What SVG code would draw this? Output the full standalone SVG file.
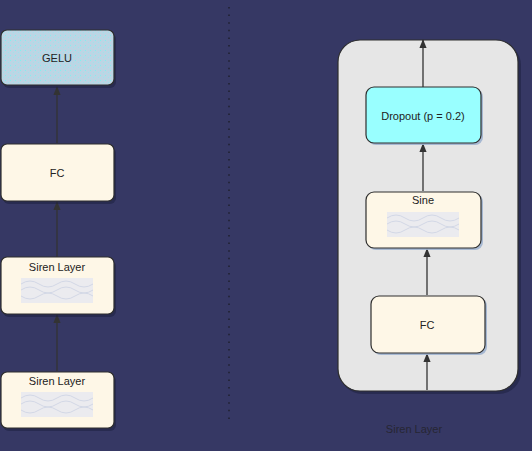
<svg xmlns="http://www.w3.org/2000/svg" width="532" height="451" viewBox="0 0 532 451">
<defs>
<style>
.node{stroke:#2e2e2e;stroke-width:1.2}
.shadow{fill:#1e2040;opacity:0.55}
.shadowL{fill:#9fb3cf;opacity:0.9}
.txt{font-family:"Liberation Sans",Arial,sans-serif;font-size:11px;fill:#222;text-anchor:middle;dominant-baseline:central}
.edge{stroke:#333;stroke-width:1.3;fill:none;marker-end:url(#ah)}
.wavebg{fill:#ebebef}
.wave{fill:none;stroke:#d3d8e6;stroke-width:1}
</style>
<marker id="ah" viewBox="0 0 10 10" refX="9" refY="5" markerWidth="7" markerHeight="7" orient="auto">
<path d="M0,1 L10,5 L0,9 Z" fill="#333"/>
</marker>
<pattern id="dots" width="5" height="5" patternUnits="userSpaceOnUse">
<rect width="5" height="5" fill="#bcd5e4"/>
<rect x="0" y="0" width="1" height="1" fill="#7ff0f0"/>
<rect x="3" y="2" width="1" height="1" fill="#9ae6ee"/>
</pattern>
<g id="waveimg">
<rect class="wavebg" x="0" y="0" width="72" height="25"/>
<path class="wave" d="M0,6 Q9,0 18,6 T36,6 T54,6 T72,6"/>
<path class="wave" d="M0,12 Q9,6 18,12 T36,12 T54,12 T72,12"/>
<path class="wave" d="M0,18 Q9,24 18,18 T36,18 T54,18 T72,18"/>
</g>
</defs>
<rect width="532" height="451" fill="#363864"/>
<line x1="229" y1="7" x2="229" y2="421" stroke="#1f1f2e" stroke-width="1.5" stroke-dasharray="1.5 6.1"/>

<g id="container">
<rect class="shadow" x="340" y="43" width="181" height="351" rx="22"/>
<rect class="node" x="338" y="40" width="180" height="351" rx="22" fill="#e6e6e6"/>
<text class="txt" x="414" y="429" style="fill:#262633">Siren Layer</text>
</g>

<g id="edges">
<line class="edge" x1="57" y1="143" x2="57" y2="87"/>
<line class="edge" x1="57" y1="257" x2="57" y2="202"/>
<line class="edge" x1="57" y1="371" x2="57" y2="315"/>
<line class="edge" x1="423" y1="87" x2="423" y2="40"/>
<line class="edge" x1="423" y1="191" x2="423" y2="144"/>
<line class="edge" x1="427" y1="295" x2="427" y2="249"/>
<line class="edge" x1="427" y1="390" x2="427" y2="354"/>
</g>

<g id="gelu">
<rect class="shadow" x="3" y="33" width="113" height="55" rx="6"/>
<rect class="node" x="1" y="30" width="113" height="55" rx="6" fill="url(#dots)"/>
<text class="txt" x="57" y="58">GELU</text>
</g>
<g id="fc_left">
<rect class="shadow" x="3" y="147" width="113" height="57" rx="6"/>
<rect class="node" x="1" y="144" width="113" height="57" rx="6" fill="#fef7e7"/>
<text class="txt" x="57" y="173">FC</text>
</g>
<g id="siren1">
<rect class="shadow" x="3" y="260" width="113" height="57" rx="6"/>
<rect class="node" x="1" y="257" width="113" height="57" rx="6" fill="#fef7e7"/>
<text class="txt" x="57" y="267">Siren Layer</text>
<use href="#waveimg" x="21" y="278"/>
</g>
<g id="siren2">
<rect class="shadow" x="3" y="375" width="113" height="56" rx="6"/>
<rect class="node" x="1" y="372" width="113" height="56" rx="6" fill="#fef7e7"/>
<text class="txt" x="57" y="381">Siren Layer</text>
<use href="#waveimg" x="21" y="392"/>
</g>

<g id="dropout">
<rect class="shadowL" x="368" y="89" width="115" height="56" rx="8"/>
<rect class="node" x="366" y="87" width="115" height="56" rx="8" fill="#99ffff"/>
<text class="txt" x="423" y="116">Dropout (p = 0.2)</text>
</g>
<g id="sine">
<rect class="shadowL" x="368" y="194" width="115" height="56" rx="8"/>
<rect class="node" x="366" y="192" width="115" height="56" rx="8" fill="#fef7e7"/>
<text class="txt" x="423" y="200">Sine</text>
<use href="#waveimg" x="387" y="212"/>
</g>
<g id="fc_right">
<rect class="shadowL" x="373" y="298" width="114" height="57" rx="8"/>
<rect class="node" x="371" y="296" width="114" height="57" rx="8" fill="#fef7e7"/>
<text class="txt" x="427" y="325">FC</text>
</g>
</svg>
